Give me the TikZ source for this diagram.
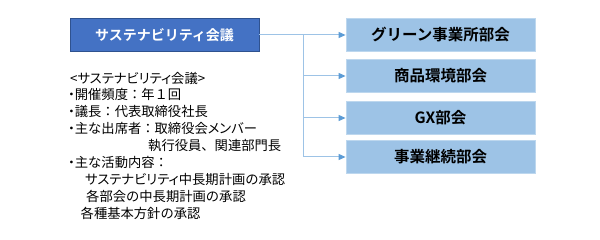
\documentclass[tikz,border=0pt]{standalone}
\usepackage{fontspec}
\setmainfont{Noto Sans CJK JP}[BoldFont={Noto Sans CJK JP Bold}]
\newfontfamily\pfont{Noto Sans CJK JP}[RawFeature=+palt]
\usetikzlibrary{arrows.meta}
\definecolor{mainblue}{HTML}{4472C4}
\definecolor{mainborder}{HTML}{2F528F}
\definecolor{subfill}{HTML}{9DC3E6}
\definecolor{subborder}{HTML}{BDD7EE}
\definecolor{linecol}{HTML}{9DC3E6}
\definecolor{tipcol}{HTML}{5B9BD5}
\tikzset{
  x=1pt, y=-1pt,
  mainbox/.style={draw=mainborder, line width=0.8pt, fill=mainblue, text=white, minimum width=189pt, minimum height=33pt, inner sep=0pt, font=\fontsize{14}{16}\selectfont\bfseries},
  subbox/.style={draw=subborder, line width=0.8pt, fill=subfill, text=black, minimum width=189pt, minimum height=33pt, inner sep=0pt, font=\fontsize{15.5}{18}\selectfont\bfseries},
  conn/.style={draw=linecol, line width=1pt},
  arr/.style={conn, -{Triangle[length=7pt,width=6pt,color=tipcol]}},
  listtxt/.style={anchor=west, inner sep=0pt, font=\fontsize{13.3}{15}\selectfont, text=black}
}
\begin{document}
\begin{tikzpicture}
\useasboundingbox (0,0) rectangle (600,240);
\node[mainbox] (main) at (164.5,35) {サステナビリティ会議};
\node[subbox] (s1) at (440.5,35) {グリーン事業所部会};
\node[subbox] (s2) at (440.5,76) {商品環境部会};
\node[subbox] (s3) at (440.5,118) {GX部会};
\node[subbox] (s4) at (440.5,157) {事業継続部会};
\coordinate (j1) at (303,35);
\coordinate (j2) at (303,76);
\coordinate (j3) at (303,118);
\coordinate (j4) at (303,157);
\draw[conn] (main.east) -- (j1) -- (j4);
\draw[arr] (j1) -- (s1.west);
\draw[arr] (j2) -- (s2.west);
\draw[arr] (j3) -- (s3.west);
\draw[arr] (j4) -- (s4.west);
\node[listtxt] (t1) at (70,78) {{\pfont <サステナビリティ}会議{\pfont >}};
\node[listtxt] (t2) at (68,94.9) {{\pfont ・}開催頻度：年１回};
\node[listtxt] (t3) at (68,111.8) {{\pfont ・}議長：代表取締役社長};
\node[listtxt] (t4) at (68,128.7) {{\pfont ・}主な出席者：取締役会{\pfont メンバー}};
\node[listtxt] (t5) at (148,145.6) {執行役員、関連部門長};
\node[listtxt] (t6) at (68,162.5) {{\pfont ・}主な活動内容：};
\node[listtxt] (t7) at (85,179.4) {{\pfont サステナビリティ}中長期計画の承認};
\node[listtxt] (t8) at (86,196.3) {各部会の中長期計画の承認};
\node[listtxt] (t9) at (80.5,213.2) {各種基本方針の承認};
\end{tikzpicture}
\end{document}
